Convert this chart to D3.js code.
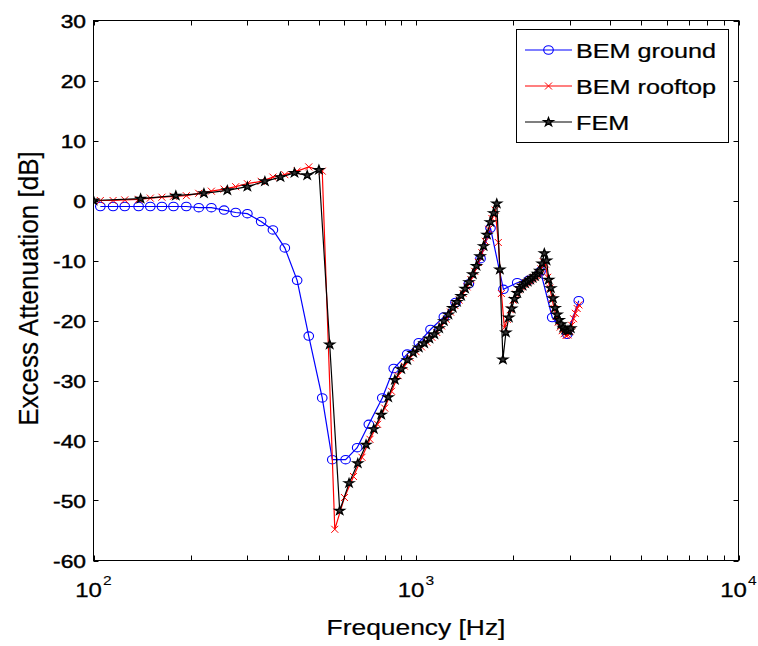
<!DOCTYPE html>
<html>
<head>
<meta charset="utf-8">
<script src="https://cdn.jsdelivr.net/npm/d3@7"></script>
<style>
  body { margin: 0; background: #fff; }
  text { font-family: "Liberation Sans", Arial, Helvetica, sans-serif; fill: #000; }
</style>
</head>
<body>
<svg id="chart"></svg>
<script>
// [frequency Hz, excess attenuation dB]
const groundData = [
  [105, -1.0], [115, -1.0], [125, -1.0], [138, -1.0], [150, -1.0], [163, -1.0],
  [177, -1.0], [194, -1.0], [212, -1.2], [232, -1.2], [254, -1.6], [276, -2.0],
  [300, -2.2], [331, -3.5], [360, -4.9], [392, -7.9], [428, -13.3], [465, -22.6],
  [512, -32.9], [550, -43.2], [605, -43.2], [657, -41.2], [714, -37.3], [786, -32.9],
  [853, -28.0], [939, -25.6], [1020, -23.7], [1109, -21.5], [1220, -19.4], [1326, -17.0],
  [1458, -13.9], [1585, -9.7], [1702, -4.6], [1867, -14.8], [2060, -13.7], [2233, -13.3],
  [2433, -11.8], [2645, -19.5], [2944, -22.3], [3197, -16.7]
];

const rooftopData = [
  [105, 0.0], [115, 0.0], [125, 0.1], [138, 0.2], [150, 0.4], [163, 0.55],
  [177, 0.7], [194, 0.8], [212, 1.2], [232, 1.55], [254, 1.9], [276, 2.3],
  [300, 2.8], [331, 3.2], [360, 3.9], [392, 4.3], [428, 4.9], [465, 5.6],
  [512, 4.9], [560, -54.8], [600, -49.5], [640, -46.0], [680, -42.8], [720, -39.8],
  [760, -37.3], [800, -34.6], [840, -31.8], [880, -29.2], [920, -27.6], [960, -26.2],
  [1000, -25.2], [1040, -24.4], [1080, -23.6], [1120, -22.8], [1160, -22.0], [1200, -20.9],
  [1240, -19.8], [1280, -18.6], [1320, -17.5], [1360, -16.6], [1400, -15.5], [1440, -14.4],
  [1480, -13.2], [1520, -11.8], [1560, -10.3], [1600, -8.7], [1640, -6.8], [1680, -4.8],
  [1720, -3.0], [1760, -1.6], [1800, -7.0], [1840, -15.5], [1880, -21.2], [1920, -19.8],
  [1960, -18.2], [2000, -16.6], [2040, -15.6], [2080, -14.9], [2120, -14.4], [2160, -14.0],
  [2200, -13.7], [2240, -13.4], [2280, -13.1], [2320, -12.8], [2360, -12.5], [2400, -12.1],
  [2440, -11.4], [2480, -10.2], [2520, -10.6], [2560, -12.8], [2600, -14.6], [2640, -16.3],
  [2680, -18.0], [2720, -19.3], [2760, -20.3], [2800, -21.1], [2840, -21.7], [2880, -22.2],
  [2920, -22.5], [2960, -22.4], [3000, -21.8], [3040, -20.8], [3080, -19.7], [3120, -18.8],
  [3160, -18.0], [3200, -17.4]
];

const femData = [
  [100, 0.0], [140, 0.3], [180, 0.8], [220, 1.2], [260, 1.7], [300, 2.3],
  [340, 3.2], [380, 3.9], [420, 4.6], [460, 4.2], [500, 5.1], [540, -24.0],
  [580, -51.7], [620, -47.1], [660, -43.8], [700, -40.7], [740, -38.1], [780, -35.7],
  [820, -32.8], [860, -29.9], [900, -28.1], [940, -26.6], [980, -25.4], [1020, -24.5],
  [1060, -23.8], [1100, -23.0], [1140, -22.3], [1180, -21.3], [1220, -20.1], [1260, -19.0],
  [1300, -17.9], [1340, -16.9], [1380, -15.9], [1420, -14.7], [1460, -13.6], [1500, -12.3],
  [1540, -10.9], [1580, -9.3], [1620, -7.6], [1660, -5.7], [1700, -3.6], [1740, -2.1],
  [1780, -0.5], [1820, -11.5], [1860, -26.5], [1900, -22.0], [1940, -19.5], [1980, -18.0],
  [2020, -16.4], [2060, -15.4], [2100, -14.6], [2140, -14.2], [2180, -13.8], [2220, -13.5],
  [2260, -13.2], [2300, -12.9], [2340, -12.6], [2380, -12.2], [2420, -11.7], [2460, -10.5],
  [2500, -8.8], [2540, -10.0], [2580, -13.2], [2620, -14.6], [2660, -16.3], [2700, -17.9],
  [2740, -19.0], [2780, -19.9], [2820, -20.6], [2860, -21.2], [2900, -21.5], [2940, -21.7],
  [2980, -21.7], [3020, -21.3]
];

const yTicks = [30, 20, 10, 0, -10, -20, -30, -40, -50, -60];
const xDecades = [100, 1000, 10000];
const xDecadeLabels = ["2", "3", "4"];
const xMinorTicks = [200, 300, 400, 500, 600, 700, 800, 900,
                     2000, 3000, 4000, 5000, 6000, 7000, 8000, 9000];
const legendLabels = ["BEM ground", "BEM rooftop", "FEM"];

const svgWidth = 758, svgHeight = 646;
const plot = { left: 93.5, right: 738.5, top: 20.5, bottom: 560.5 };
const SX = 1.2; // the source picture is stretched sideways
const tickLen = 5;

const svg = d3.select("#chart")
  .attr("width", svgWidth)
  .attr("height", svgHeight)
  .style("background-color", "#fff");

const x = d3.scaleLog().domain([100, 10000]).range([plot.left, plot.right]);
const y = d3.scaleLinear().domain([-60, 30]).range([plot.bottom, plot.top]);

svg.append("defs").append("clipPath").attr("id", "plot-clip")
  .append("rect")
  .attr("x", plot.left).attr("y", plot.top)
  .attr("width", plot.right - plot.left).attr("height", plot.bottom - plot.top);

// ticks, inside, on all four sides
const ticks = svg.append("g").attr("stroke", "#000").attr("stroke-width", 1);
xDecades.concat(xMinorTicks).forEach(f => {
  const px = Math.round(x(f)) + 0.5;
  ticks.append("line").attr("x1", px).attr("x2", px).attr("y1", plot.bottom).attr("y2", plot.bottom - tickLen);
  ticks.append("line").attr("x1", px).attr("x2", px).attr("y1", plot.top).attr("y2", plot.top + tickLen);
});
yTicks.forEach(v => {
  const py = Math.round(y(v)) + 0.5;
  ticks.append("line").attr("x1", plot.left).attr("x2", plot.left + tickLen).attr("y1", py).attr("y2", py);
  ticks.append("line").attr("x1", plot.right).attr("x2", plot.right - tickLen).attr("y1", py).attr("y2", py);
});

// y tick labels
yTicks.forEach(v => {
  svg.append("text")
    .attr("transform", `translate(86, ${y(v) + 7}) scale(${SX},1)`)
    .attr("text-anchor", "end")
    .style("font-size", "19px")
    .style("stroke", "#000").style("stroke-width", 0.45)
    .text(v);
});

// x tick labels 10^n
xDecades.forEach((f, i) => {
  const t = svg.append("text")
    .attr("transform", `translate(${x(f)}, 597) scale(${SX},1)`)
    .attr("text-anchor", "middle")
    .style("font-size", "20px")
    .style("stroke", "#000").style("stroke-width", 0.3);
  t.append("tspan").text("10");
  t.append("tspan").attr("dy", -12).attr("dx", 1).style("font-size", "13px").style("stroke-width", 0.1).text(xDecadeLabels[i]);
});

// axis titles
svg.append("text")
  .attr("transform", `translate(${(plot.left + plot.right) / 2}, 635) scale(${SX},1)`)
  .attr("text-anchor", "middle")
  .style("font-size", "22px")
  .style("stroke", "#000").style("stroke-width", 0.2)
  .text("Frequency [Hz]");

svg.append("text")
  .attr("transform", `translate(38, ${(plot.top + plot.bottom) / 2 - 2}) scale(1.05,1) rotate(-90)`)
  .attr("text-anchor", "middle")
  .style("font-size", "26px")
  .style("stroke", "#000").style("stroke-width", 0.2)
  .text("Excess Attenuation [dB]");

// series
const line = d3.line().x(d => x(d[0])).y(d => y(d[1]));
const series = [
  { data: groundData, color: "#0000ff", marker: "circle" },
  { data: rooftopData, color: "#ff0000", marker: "cross" },
  { data: femData, color: "#000000", marker: "star" }
];

const starPath = d3.symbol(d3.symbolStar, 22)();
const crossPath = "M-3.5,-3.5L3.5,3.5M-3.5,3.5L3.5,-3.5";

function drawMarker(g, kind, color, px, py) {
  if (kind === "circle") {
    g.append("ellipse").attr("cx", px).attr("cy", py).attr("rx", 4.8).attr("ry", 4.2)
      .attr("fill", "none").attr("stroke", color).attr("stroke-width", 1.1);
  } else if (kind === "cross") {
    g.append("path").attr("d", crossPath).attr("transform", `translate(${px},${py})`)
      .attr("fill", "none").attr("stroke", color).attr("stroke-width", 1);
  } else {
    g.append("path").attr("d", starPath).attr("transform", `translate(${px},${py}) scale(1.15,1)`)
      .attr("fill", "#333").attr("stroke", color).attr("stroke-width", 1.2);
  }
}

const plotG = svg.append("g").attr("clip-path", "url(#plot-clip)");
series.forEach(s => {
  const g = plotG.append("g");
  g.append("path").datum(s.data)
    .attr("d", line)
    .attr("fill", "none")
    .attr("stroke", s.color)
    .attr("stroke-width", 1.2);
  s.data.forEach(d => drawMarker(g, s.marker, s.color, x(d[0]), y(d[1])));
});

// axes box
svg.append("rect")
  .attr("x", plot.left).attr("y", plot.top)
  .attr("width", plot.right - plot.left).attr("height", plot.bottom - plot.top)
  .attr("fill", "none").attr("stroke", "#000").attr("stroke-width", 1);

// legend
const legend = svg.append("g");
legend.append("rect")
  .attr("x", 516.5).attr("y", 29.5).attr("width", 212).attr("height", 113)
  .attr("fill", "#fff").attr("stroke", "#000").attr("stroke-width", 1);
series.forEach((s, i) => {
  const ly = 50 + i * 36;
  legend.append("line")
    .attr("x1", 525).attr("x2", 572).attr("y1", ly).attr("y2", ly)
    .attr("stroke", s.color).attr("stroke-width", 1.2);
  drawMarker(legend, s.marker, s.color, 548.5, ly);
  legend.append("text")
    .attr("transform", `translate(576, ${ly + 7.5}) scale(${SX},1)`)
    .style("font-size", "21px")
    .style("stroke", "#000").style("stroke-width", 0.25)
    .text(legendLabels[i]);
});
</script>
</body>
</html>
